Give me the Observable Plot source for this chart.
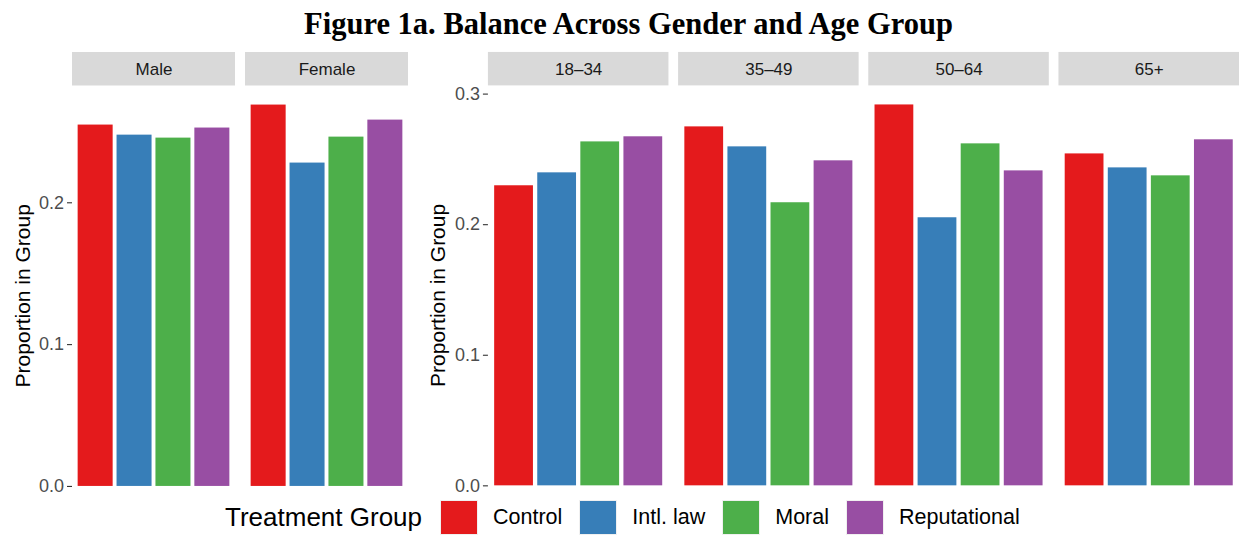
<!DOCTYPE html>
<html>
<head>
<meta charset="utf-8">
<script src="https://cdn.jsdelivr.net/npm/d3@7"></script>
<script src="https://cdn.jsdelivr.net/npm/@observablehq/plot@0.6"></script>
<style>
  html, body { margin: 0; padding: 0; background: #fff; overflow: hidden; }
  #root { position: relative; width: 1239px; height: 535px; overflow: hidden; font-family: "Liberation Sans", Arial, sans-serif; }
  #title { position: absolute; left: 0; width: 1257px; top: 9px; line-height: 1; text-align: center; font-family: "Liberation Serif", serif; font-weight: bold; color: #000; white-space: nowrap; }
  #left, #right { position: absolute; top: 0; }
  #left { left: 0; }
  #right { left: 410px; }
  #legend { position: absolute; left: 225px; top: 500px; height: 35px; display: flex; align-items: center; white-space: nowrap; }
  #legend .ttl { font-size: 26px; color: #000; margin-right: 18px; }
  #legend .sw { width: 38px; height: 35px; box-sizing: border-box; border: 1px solid #f0f0f0; }
  #legend .lab { font-size: 21.5px; color: #000; margin-left: 15px; margin-right: 17px; }
</style>
</head>
<body>
<div id="root">
  <div id="title">Figure 1a. Balance Across Gender and Age Group</div>
  <div id="left"></div>
  <div id="right"></div>
  <div id="legend"></div>
</div>
<script>
// ---- data ----
const groups = ["Control", "Intl. law", "Moral", "Reputational"];
const groupColors = ["#E41A1C", "#377EB8", "#4DAF4A", "#984EA3"];

const genders = ["Male", "Female"];
const maleValues   = [0.2548, 0.2477, 0.2456, 0.2527];
const femaleValues = [0.2689, 0.2280, 0.2463, 0.2583];

const ages = ["18–34", "35–49", "50–64", "65+"];
const age1834Values = [0.2298, 0.2397, 0.2634, 0.2673];
const age3549Values = [0.2749, 0.2596, 0.2168, 0.2489];
const age5064Values = [0.2917, 0.2053, 0.2619, 0.2412];
const age65Values   = [0.2542, 0.2435, 0.2374, 0.2650];

const leftTicks  = [0.0, 0.1, 0.2];
const rightTicks = [0.0, 0.1, 0.2, 0.3];
const yTitle = "Proportion in Group";
const legendTitle = "Treatment Group";

// ---- tables ----
function table(facets, seriesList) {
  const rows = [];
  facets.forEach((f, i) => groups.forEach((g, j) => rows.push({facet: f, group: g, value: seriesList[i][j]})));
  return rows;
}
const genderData = table(genders, [maleValues, femaleValues]);
const ageData = table(ages, [age1834Values, age3549Values, age5064Values, age65Values]);

function panel({data, facets, ticks, width, marginLeft, marginRight, fxPad, labelDx}) {
  const maxV = d3.max(data, d => d.value);
  const top = maxV * 1.05, bottom = -maxV * 0.05;
  return Plot.plot({
    width, height: 535,
    marginTop: 85.5, marginBottom: 30, marginLeft, marginRight,
    style: {fontFamily: "'Liberation Sans', Arial, sans-serif", background: "transparent", overflow: "visible"},
    fx: {domain: facets, paddingInner: fxPad, paddingOuter: 0, round: false, axis: null, label: null},
    x: {domain: groups, paddingInner: 0.1, paddingOuter: 0.145, round: false, axis: null, label: null},
    y: {domain: [bottom, top], axis: null, label: null},
    color: {domain: groups, range: groupColors},
    marks: [
      Plot.rect(facets, {fx: d => d, y1: top, y2: top, insetTop: -33.5, insetBottom: 0, fill: "#D9D9D9"}),
      Plot.text(facets, {fx: d => d, text: d => d, frameAnchor: "top", lineAnchor: "middle", dy: -16.5, fontSize: 17, fill: "#1A1A1A"}),
      Plot.barY(data, {fx: "facet", x: "group", y: "value", fill: "group"}),
      Plot.axisY({ticks, tickFormat: d3.format(".1f"), tickSize: 5, tickPadding: 3.5, fontSize: 18,
                  stroke: "#333333", strokeWidth: 1.1, fill: "#4D4D4D", label: null}),
      Plot.text([yTitle], {fx: () => facets[0], text: d => d, frameAnchor: "left", textAnchor: "middle", lineAnchor: "middle",
                           rotate: -90, dx: labelDx, fontSize: 21, fill: "#000"})
    ]
  });
}

document.getElementById("left").appendChild(panel({
  data: genderData, facets: genders, ticks: leftTicks, width: 410,
  marginLeft: 72, marginRight: 2, fxPad: 0.0578, labelDx: -49
}));
document.getElementById("right").appendChild(panel({
  data: ageData, facets: ages, ticks: rightTicks, width: 830,
  marginLeft: 78, marginRight: 0, fxPad: 0.0507, labelDx: -50.5
}));

// ---- legend ----
const legend = document.getElementById("legend");
const lt = document.createElement("span"); lt.className = "ttl"; lt.textContent = legendTitle; legend.appendChild(lt);
groups.forEach((g, i) => {
  const sw = document.createElement("span"); sw.className = "sw"; sw.style.background = groupColors[i]; legend.appendChild(sw);
  const lb = document.createElement("span"); lb.className = "lab"; lb.textContent = g; legend.appendChild(lb);
});

// ---- title sizing: fit to the reference width ----
const title = document.getElementById("title");
const cvs = document.createElement("canvas").getContext("2d");
cvs.font = "bold 100px 'Liberation Serif'";
const w100 = cvs.measureText(title.textContent).width;
title.style.fontSize = (100 * 653 / w100).toFixed(2) + "px";
</script>
</body>
</html>
